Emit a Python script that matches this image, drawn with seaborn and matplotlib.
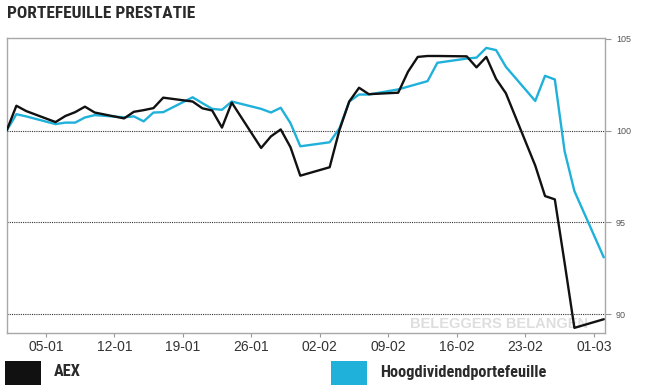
import matplotlib
matplotlib.use("Agg")
import matplotlib.pyplot as plt
import matplotlib.dates as mdates
from matplotlib.patches import Rectangle
import pandas as pd
import seaborn as sns

dates = [
    "2020-01-01", "2020-01-02", "2020-01-03", "2020-01-06", "2020-01-07", "2020-01-08",
    "2020-01-09", "2020-01-10", "2020-01-13", "2020-01-14", "2020-01-15", "2020-01-16",
    "2020-01-17", "2020-01-20", "2020-01-21", "2020-01-22", "2020-01-23", "2020-01-24",
    "2020-01-27", "2020-01-28", "2020-01-29", "2020-01-30", "2020-01-31", "2020-02-03",
    "2020-02-04", "2020-02-05", "2020-02-06", "2020-02-07", "2020-02-10", "2020-02-11",
    "2020-02-12", "2020-02-13", "2020-02-14", "2020-02-17", "2020-02-18", "2020-02-19",
    "2020-02-20", "2020-02-21", "2020-02-24", "2020-02-25", "2020-02-26", "2020-02-27",
    "2020-02-28", "2020-03-02",
]
aex = [
    100.0, 101.36, 101.07, 100.47, 100.80, 101.01, 101.31, 100.99, 100.67, 101.03,
    101.12, 101.23, 101.80, 101.59, 101.22, 101.10, 100.17, 101.53, 99.06, 99.69,
    100.07, 99.10, 97.55, 98.01, 100.04, 101.59, 102.34, 101.99, 102.07, 103.21,
    104.02, 104.07, 104.07, 104.05, 103.45, 104.02, 102.82, 102.04, 98.10, 96.44,
    96.26, 92.80, 89.26, 89.73,
]
hoogdividend = [
    100.0, 100.90, 100.78, 100.36, 100.44, 100.44, 100.72, 100.85, 100.73, 100.78,
    100.51, 100.99, 101.01, 101.82, 101.50, 101.19, 101.14, 101.59, 101.19, 100.99,
    101.25, 100.41, 99.15, 99.37, 100.13, 101.59, 101.97, 101.97, 102.25, 102.40,
    102.55, 102.70, 103.70, 103.93, 103.98, 104.51, 104.39, 103.48, 101.62, 102.99,
    102.79, 98.88, 96.71, 93.10,
]
series_names = ["AEX", "Hoogdividendportefeuille"]
y_ticks = [90, 95, 100, 105]
x_ticks = ["2020-01-05", "2020-01-12", "2020-01-19", "2020-01-26", "2020-02-02",
           "2020-02-09", "2020-02-16", "2020-02-23", "2020-03-01"]

BLACK = "#111111"
BLUE = "#1fb1da"

df = pd.concat([
    pd.DataFrame({"datum": pd.to_datetime(dates), "waarde": aex, "reeks": series_names[0]}),
    pd.DataFrame({"datum": pd.to_datetime(dates), "waarde": hoogdividend, "reeks": series_names[1]}),
])

sns.set_style("white")
plt.rcParams["font.family"] = ["Liberation Sans", "DejaVu Sans"]

W, H = 647, 385
fig = plt.figure(figsize=(W / 100, H / 100), dpi=100)
ax = fig.add_axes([6.6 / W, 1 - 333 / H, (605 - 6.6) / W, (333 - 38) / H])

sns.lineplot(data=df, x="datum", y="waarde", hue="reeks",
             palette={series_names[0]: BLACK, series_names[1]: BLUE},
             hue_order=[series_names[1], series_names[0]],
             linewidth=1.7, legend=False, ax=ax, zorder=3)

ax.set_xlim(pd.Timestamp("2020-01-01"), pd.Timestamp("2020-03-02 03:00"))
ax.set_ylim(88.98, 105.05)
ax.set_xlabel("")
ax.set_ylabel("")

for v in y_ticks[:3]:
    ax.axhline(v, color="#333333", lw=0.8, linestyle=(0, (1, 1)), zorder=1)

ax.yaxis.tick_right()
ax.set_yticks(y_ticks)
ax.set_yticklabels([str(t) for t in y_ticks])
ax.tick_params(axis="y", right=True, length=4, width=0.8, color="#999999",
               labelsize=6.5, labelcolor="#555555", pad=4)

ax.set_xticks(pd.to_datetime(x_ticks))
ax.xaxis.set_major_formatter(mdates.DateFormatter("%d-%m"))
ax.tick_params(axis="x", bottom=True, length=3, width=0.8, color="#999999",
               labelsize=10, labelcolor="#333333", pad=2)

for s in ax.spines.values():
    s.set_color("#a8a8a8")
    s.set_linewidth(1.0)

ax.text(pd.Timestamp("2020-02-11 06:00"), 89.45, "BELEGGERS BELANGEN",
        color="#dedede", fontsize=10.5, fontweight="bold", ha="left", va="center", zorder=0)

cond_font = ["Roboto Condensed", "Asap Condensed", "Archivo Narrow", "DejaVu Sans"]
renderer = fig.canvas.get_renderer()


def fitted_text(x_px, y_px, s, target_w, size):
    t = fig.text(x_px / W, 1 - y_px / H, s, family=cond_font, fontweight="bold",
                 fontsize=size, color="#2a2a2a", ha="left", va="center")
    w = t.get_window_extent(renderer=renderer).width
    if w > 0:
        t.set_fontsize(size * target_w / w)
    return t


fitted_text(7, 14, "PORTEFEUILLE PRESTATIE", 188, 12.5)

fig.patches.append(Rectangle((5 / W, 0), 36 / W, 24 / H, transform=fig.transFigure,
                             color=BLACK, lw=0))
fig.patches.append(Rectangle((331 / W, 0), 36 / W, 24 / H, transform=fig.transFigure,
                             color=BLUE, lw=0))
fitted_text(54, 372, series_names[0], 27, 12)
fitted_text(380, 372, series_names[1], 166, 12)

fig.savefig("out.png", dpi=100)
